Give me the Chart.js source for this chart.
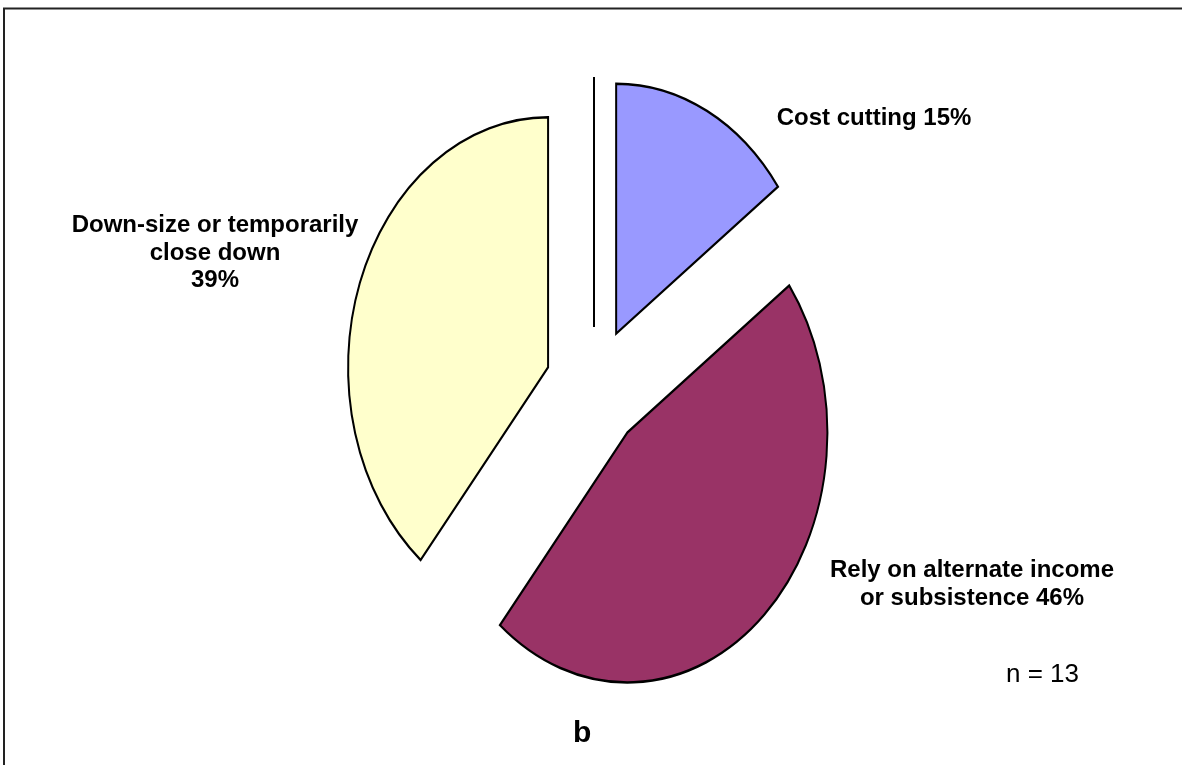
<!DOCTYPE html>
<html>
<head>
<meta charset="utf-8">
<script src="https://cdn.jsdelivr.net/npm/chart.js@4.4.1/dist/chart.umd.min.js"></script>
<style>
    html, body { margin: 0; padding: 0; background: #ffffff; }
    #wrap { position: relative; width: 1182px; height: 765px; overflow: hidden; }
</style>
</head>
<body>
<div id="wrap">
    <canvas id="responseChart" width="1182" height="765"></canvas>
</div>
<script>
// Responses (percent of businesses), starting at 12 o'clock and going clockwise
const categories = [
    'Other',
    ['Cost cutting'],
    ['Rely on alternate income', 'or subsistence'],
    ['Down-size or temporarily', 'close down', '']
];
const shares = [0, 15, 46, 39];
const sliceColors = ['#ffffff', '#9999ff', '#993366', '#ffffcc'];
const sampleNote = 'n = 13';
const panelTag = 'b';

// Label anchors (centre x, first baseline y); null = no label
const labelAnchors = [null, [874, 125], [972, 577], [215, 232]];

const PIE_RADIUS = 250;
const EXPLODE = 61;      // distance each slice is pulled out
const X_SQUASH = 0.8;    // pie is drawn as an ellipse, narrower than tall

// Pull every slice out along its middle angle and squash the pie horizontally
const explodedPie = {
    id: 'explodedPie',
    beforeDatasetsDraw(chart) {
        const meta = chart.getDatasetMeta(0);
        const ctx = chart.ctx;
        meta.data.forEach(arc => {
            if (arc._wrapped) return;
            const baseDraw = arc.draw;
            arc.draw = function (c) {
                const mid = (this.startAngle + this.endAngle) / 2;
                c.save();
                c.translate(Math.cos(mid) * EXPLODE, Math.sin(mid) * EXPLODE);
                baseDraw.call(this, c);
                c.restore();
            };
            arc._wrapped = true;
        });
        const cx = meta.data[0].x;
        ctx.save();
        ctx.translate(cx, 0);
        ctx.scale(X_SQUASH, 1);
        ctx.translate(-cx, 0);
    },
    afterDatasetsDraw(chart) {
        const ctx = chart.ctx;
        // zero-sized slices still show as a single radius line
        chart.getDatasetMeta(0).data.forEach(arc => {
            if (arc.endAngle - arc.startAngle > 0) return;
            const a = arc.startAngle;
            const x0 = arc.x + Math.cos(a) * EXPLODE;
            const y0 = arc.y + Math.sin(a) * EXPLODE;
            ctx.beginPath();
            ctx.moveTo(x0, y0);
            ctx.lineTo(x0 + Math.cos(a) * arc.outerRadius, y0 + Math.sin(a) * arc.outerRadius);
            ctx.lineWidth = 2.5;
            ctx.strokeStyle = '#000000';
            ctx.stroke();
        });
        ctx.restore();
    },
    afterDraw(chart) {
        const ctx = chart.ctx;
        ctx.save();

        // outer frame
        ctx.strokeStyle = '#222222';
        ctx.lineWidth = 2;
        ctx.beginPath();
        ctx.moveTo(4, 765);
        ctx.lineTo(4, 8.5);
        ctx.lineTo(1182, 8.5);
        ctx.stroke();

        ctx.fillStyle = '#000000';
        ctx.textAlign = 'center';
        ctx.textBaseline = 'alphabetic';
        ctx.font = 'bold 24px "Liberation Sans", Arial, sans-serif';
        const lineGap = 27.7;
        categories.forEach((name, i) => {
            const anchor = labelAnchors[i];
            if (!anchor || !shares[i]) return;
            const lines = name.slice();
            const last = lines.length - 1;
            lines[last] = (lines[last] + ' ' + shares[i] + '%').trim();
            lines.forEach((line, k) => {
                ctx.fillText(line, anchor[0], anchor[1] + k * lineGap);
            });
        });

        ctx.textAlign = 'left';
        ctx.font = '26px "Liberation Sans", Arial, sans-serif';
        ctx.fillText(sampleNote, 1006, 682);

        ctx.font = 'bold 30px "Liberation Sans", Arial, sans-serif';
        ctx.fillText(panelTag, 573, 742);

        ctx.restore();
    }
};

new Chart(document.getElementById('responseChart'), {
    type: 'pie',
    data: {
        labels: categories,
        datasets: [{
            data: shares,
            backgroundColor: sliceColors,
            borderColor: '#000000',
            borderWidth: 2.5,
            borderJoinStyle: 'miter',
            radius: PIE_RADIUS,
            clip: false
        }]
    },
    options: {
        responsive: false,
        animation: false,
        events: [],
        layout: {
            padding: { left: 6, right: 0, top: 11, bottom: 0 }
        },
        plugins: {
            legend: { display: false },
            tooltip: { enabled: false }
        }
    },
    plugins: [explodedPie]
});
</script>
</body>
</html>
